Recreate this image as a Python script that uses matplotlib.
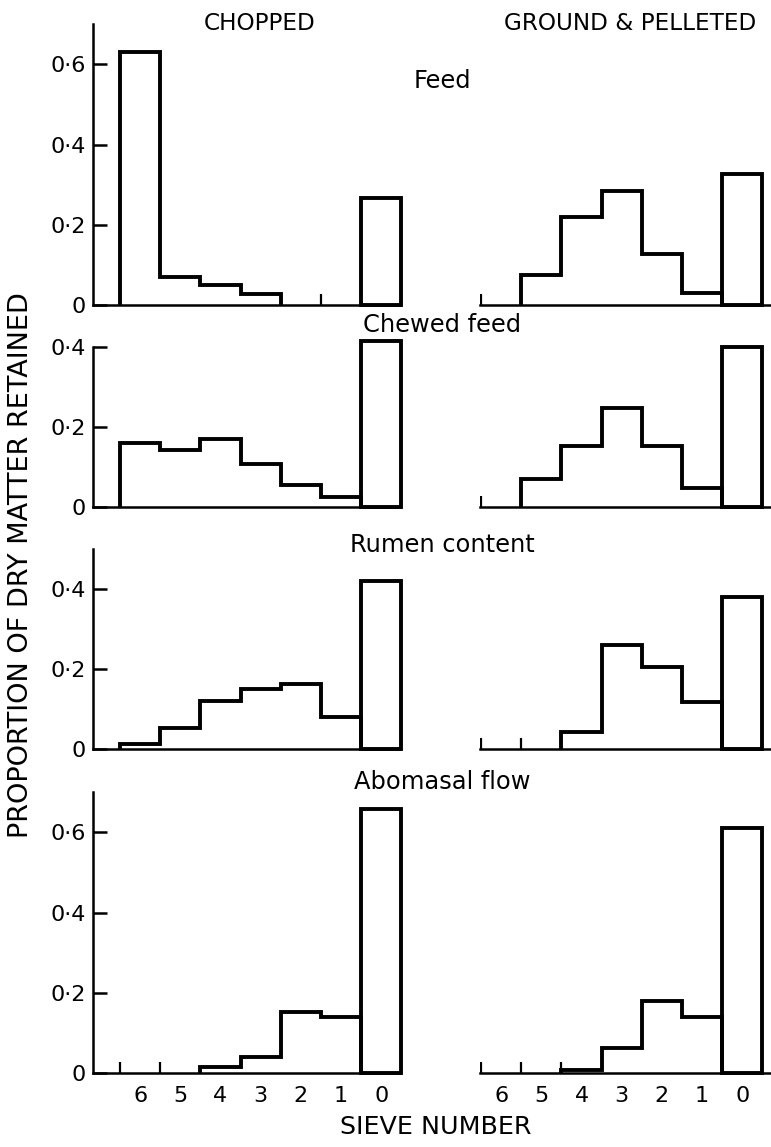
import matplotlib
matplotlib.use("Agg")
import matplotlib.pyplot as plt

# data: proportion of dry matter retained on sieves 6..0
sieve_labels = ["6", "5", "4", "3", "2", "1", "0"]
panel_titles = ["Feed", "Chewed feed", "Rumen content", "Abomasal flow"]

chopped_feed = [0.63, 0.07, 0.05, 0.027, 0.0, 0.0, 0.267]
chopped_chewed = [0.16, 0.143, 0.17, 0.107, 0.055, 0.025, 0.415]
chopped_rumen = [0.013, 0.052, 0.12, 0.15, 0.162, 0.08, 0.418]
chopped_abomasal = [0.0, 0.0, 0.015, 0.04, 0.152, 0.14, 0.658]

pellet_feed = [0.0, 0.074, 0.22, 0.284, 0.128, 0.03, 0.326]
pellet_chewed = [0.0, 0.07, 0.153, 0.248, 0.153, 0.047, 0.40]
pellet_rumen = [0.0, 0.0, 0.043, 0.26, 0.205, 0.118, 0.38]
pellet_abomasal = [0.0, 0.0, 0.007, 0.062, 0.18, 0.14, 0.61]

# small marks at bin edges where nothing was retained
chopped_edge_marks = [[5], [], [], [0, 1]]
pellet_edge_marks = [[0], [0], [0, 1], [0, 1, 2]]

chopped = [chopped_feed, chopped_chewed, chopped_rumen, chopped_abomasal]
pellet = [pellet_feed, pellet_chewed, pellet_rumen, pellet_abomasal]

# layout (pixels)
W, H = 771, 1147
px_per_unit = 401
rows = [  # (y of zero line, ylim top, spine top, yticks)
    (305, 0.70, 0.70, [0, 0.2, 0.4, 0.6]),
    (507, 0.43, 0.40, [0, 0.2, 0.4]),
    (749, 0.50, 0.50, [0, 0.2, 0.4]),
    (1073, 0.70, 0.70, [0, 0.2, 0.4, 0.6]),
]
bin_px = 40.2
left_col = (93, 400, 120)   # axis start, axis end, first bin edge
right_col = (480, 771, 481)

plt.rcParams["font.family"] = "DejaVu Sans"
fig = plt.figure(figsize=(W / 100, H / 100), dpi=100)

edges = list(range(len(sieve_labels) + 1))


def fmt(v):
    return "0" if v == 0 else ("%.1f" % v).replace(".", "\u00b7")


for r, (y0, ytop, stop, yticks) in enumerate(rows):
    for c, (col, data, marks) in enumerate([(left_col, chopped, chopped_edge_marks),
                                            (right_col, pellet, pellet_edge_marks)]):
        x_start, x_end, first_edge = col
        h = ytop * px_per_unit
        ax = fig.add_axes([x_start / W, (H - y0) / H, (x_end - x_start) / W, h / H])
        ax.set_xlim(-(first_edge - x_start) / bin_px, (x_end - first_edge) / bin_px)
        ax.set_ylim(0, ytop)
        vals = data[r]
        # step outline only over the non-empty sieves 6..1
        nz = [i for i, v in enumerate(vals[:-1]) if v > 0]
        lo, hi = nz[0], nz[-1] + 1
        ax.stairs(vals[lo:hi], edges[lo:hi + 1], baseline=0, fill=False, color="black",
                  lw=2.8, clip_on=False)
        ax.bar(edges[-2] + 0.5, vals[-1], width=1.0, fill=False, edgecolor="black",
               lw=2.8, clip_on=False)
        for e in marks[r]:
            ax.vlines(e, 0, 0.028, color="black", lw=1.6)

        for s in ["top", "right"]:
            ax.spines[s].set_visible(False)
        ax.spines["bottom"].set_linewidth(1.8)
        if c == 0:
            ax.spines["left"].set_linewidth(1.8)
            ax.spines["left"].set_bounds(0, stop)
            ax.set_yticks(yticks)
            ax.set_yticklabels([fmt(v) for v in yticks], fontsize=16)
            ax.tick_params(axis="y", direction="in", length=10, width=1.8, pad=5)
        else:
            ax.spines["left"].set_visible(False)
            ax.set_yticks([])

        centers = [e + 0.5 for e in edges[:-1]]
        ax.set_xticks(centers)
        if r == len(rows) - 1:
            ax.set_xticklabels(sieve_labels, fontsize=16)
        else:
            ax.set_xticklabels([])
        ax.tick_params(axis="x", length=0, pad=9)
        ax.patch.set_visible(False)

# panel titles
title_y = [81, 325, 545, 782]
for t, ty in zip(panel_titles, title_y):
    fig.text(442 / W, 1 - ty / H, t, ha="center", va="center", fontsize=17.4)

fig.text(260 / W, 1 - 23 / H, "CHOPPED", ha="center", va="center", fontsize=16.7)
fig.text(630 / W, 1 - 23 / H, "GROUND & PELLETED", ha="center", va="center", fontsize=16.7)
fig.text(21 / W, 1 - 565 / H, "PROPORTION OF DRY MATTER RETAINED", rotation=90,
         ha="center", va="center", fontsize=19.5)
fig.text(436 / W, 1 - 1127 / H, "SIEVE NUMBER", ha="center", va="center", fontsize=18.3)

fig.savefig("out.png", dpi=100)
